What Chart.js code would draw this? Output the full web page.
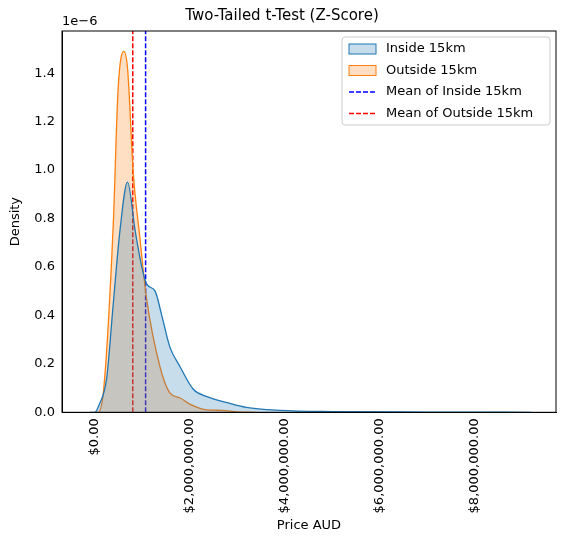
<!DOCTYPE html>
<html>
<head>
<script src="https://cdn.jsdelivr.net/npm/chart.js@4"></script>
<style>body{margin:0;background:#fff}#wrap{width:567px;height:541px}</style>
</head>
<body>
<div id="wrap"><canvas id="c"></canvas></div>
<script>
// KDE curves (x in AUD, y in 1e-6 density)
const insideX = [-100000, 10000, 100000, 260000, 400000, 540000, 700000, 860000, 1000000, 1100000, 1280000, 1420000, 1590000, 1800000, 2080000, 2370000, 2790000, 3200000, 3900000, 5000000, 7000000, 9200000];
const insideY = [0, 0, 0.03, 0.14, 0.45, 0.75, 0.95, 0.75, 0.6, 0.53, 0.5, 0.4, 0.27, 0.19, 0.096, 0.065, 0.04, 0.02, 0.008, 0.003, 0.001, 0];
const outsideX = [0, 80000, 200000, 400000, 500000, 620000, 700000, 820000, 960000, 1100000, 1380000, 1590000, 1800000, 2000000, 2370000, 2700000, 3000000, 3400000];
const outsideY = [0, 0, 0.1, 0.78, 1.33, 1.49, 1.42, 0.99, 0.72, 0.47, 0.19, 0.08, 0.06, 0.035, 0.01, 0.008, 0.002, 0];
const meanInside = 1080000;
const meanOutside = 810000;
const xTicks = [0, 2000000, 4000000, 6000000, 8000000];
const yTicks = [0, 0.2, 0.4, 0.6, 0.8, 1.0, 1.2, 1.4];

const pts = (xs, ys) => xs.map((x, i) => ({x: x, y: ys[i]}));
const legendItems = [
  {label: 'Inside 15km', kind: 'box', stroke: '#1f77b4', fill: 'rgba(31,119,180,0.25)'},
  {label: 'Outside 15km', kind: 'box', stroke: '#ff7f0e', fill: 'rgba(255,127,14,0.25)'},
  {label: 'Mean of Inside 15km', kind: 'line', stroke: '#0000ff'},
  {label: 'Mean of Outside 15km', kind: 'line', stroke: '#ff0000'}
];

const extras = {
  id: 'extras',
  afterDraw(chart) {
    const c = chart.ctx, a = chart.chartArea;
    c.save();
    c.strokeStyle = '#000'; c.lineWidth = 1;
    c.strokeRect(a.left, a.top, a.right - a.left, a.bottom - a.top);
    c.font = '13px "DejaVu Sans"';
    c.fillStyle = '#000';
    c.textBaseline = 'bottom';
    c.fillText('1e\u22126', a.left, a.top - 3);
    // legend box
    const w = 208, h = 88, x0 = a.right - w - 6, y0 = a.top + 6;
    c.fillStyle = 'rgba(255,255,255,0.8)';
    c.strokeStyle = '#ccc';
    c.beginPath(); c.roundRect(x0, y0, w, h, 3); c.fill(); c.stroke();
    c.textBaseline = 'middle';
    legendItems.forEach((it, i) => {
      const yy = y0 + 12 + i * 21.5;
      if (it.kind === 'box') {
        c.fillStyle = it.fill; c.strokeStyle = it.stroke;
        c.fillRect(x0 + 7, yy - 5, 27, 10); c.strokeRect(x0 + 7, yy - 5, 27, 10);
      } else {
        c.strokeStyle = it.stroke; c.lineWidth = 1.5; c.setLineDash([5, 2]);
        c.beginPath(); c.moveTo(x0 + 7, yy); c.lineTo(x0 + 34, yy); c.stroke();
        c.setLineDash([]);
      }
      c.fillStyle = '#000';
      c.fillText(it.label, x0 + 44, yy);
    });
    c.restore();
  }
};

new Chart(document.getElementById('c'), {
  type: 'line',
  data: {
    datasets: [
      {data: pts(insideX, insideY), borderColor: '#1f77b4', backgroundColor: 'rgba(31,119,180,0.25)', fill: 'origin', borderWidth: 1.3, pointRadius: 0, tension: 0.4, cubicInterpolationMode: 'monotone'},
      {data: pts(outsideX, outsideY), borderColor: '#ff7f0e', backgroundColor: 'rgba(255,127,14,0.25)', fill: 'origin', borderWidth: 1.3, pointRadius: 0, tension: 0.4, cubicInterpolationMode: 'monotone'},
      {data: [{x: meanInside, y: 0}, {x: meanInside, y: 1.574}], borderColor: '#0000ff', borderDash: [5, 2], borderWidth: 1.5, pointRadius: 0, fill: false},
      {data: [{x: meanOutside, y: 0}, {x: meanOutside, y: 1.574}], borderColor: '#ff0000', borderDash: [5, 2], borderWidth: 1.5, pointRadius: 0, fill: false}
    ]
  },
  options: {
    responsive: true, maintainAspectRatio: false, animation: false,
    layout: {padding: {left: 8, right: 11, top: 0, bottom: 6}},
    plugins: {
      legend: {display: false}, tooltip: {enabled: false},
      title: {display: true, text: 'Two-Tailed t-Test (Z-Score)', color: '#000', font: {family: 'DejaVu Sans', size: 15, weight: 'normal'}, padding: {top: 7, bottom: 6}}
    },
    scales: {
      x: {
        type: 'linear', min: -680000, max: 9720000,
        afterBuildTicks: s => { s.ticks = xTicks.map(v => ({value: v})); },
        grid: {display: false, drawTicks: true, tickLength: 4, tickColor: '#000'},
        border: {color: '#000'},
        ticks: {color: '#000', maxRotation: 90, minRotation: 90, padding: 2, font: {family: 'DejaVu Sans', size: 13},
          callback: v => '$' + v.toLocaleString('en-US', {minimumFractionDigits: 2, maximumFractionDigits: 2})},
        title: {display: true, text: 'Price AUD', color: '#000', font: {family: 'DejaVu Sans', size: 13}, padding: {top: 2, bottom: 2}}
      },
      y: {
        min: 0, max: 1.574,
        afterBuildTicks: s => { s.ticks = yTicks.map(v => ({value: v})); },
        afterFit: s => { s.width = 54; },
        grid: {display: false, drawTicks: true, tickLength: 4, tickColor: '#000'},
        border: {color: '#000'},
        ticks: {color: '#000', font: {family: 'DejaVu Sans', size: 13}, callback: v => v.toFixed(1)},
        title: {display: true, text: 'Density', color: '#000', font: {family: 'DejaVu Sans', size: 13}, padding: {top: 0, bottom: 2}}
      }
    }
  },
  plugins: [extras]
});
</script>
</body>
</html>
